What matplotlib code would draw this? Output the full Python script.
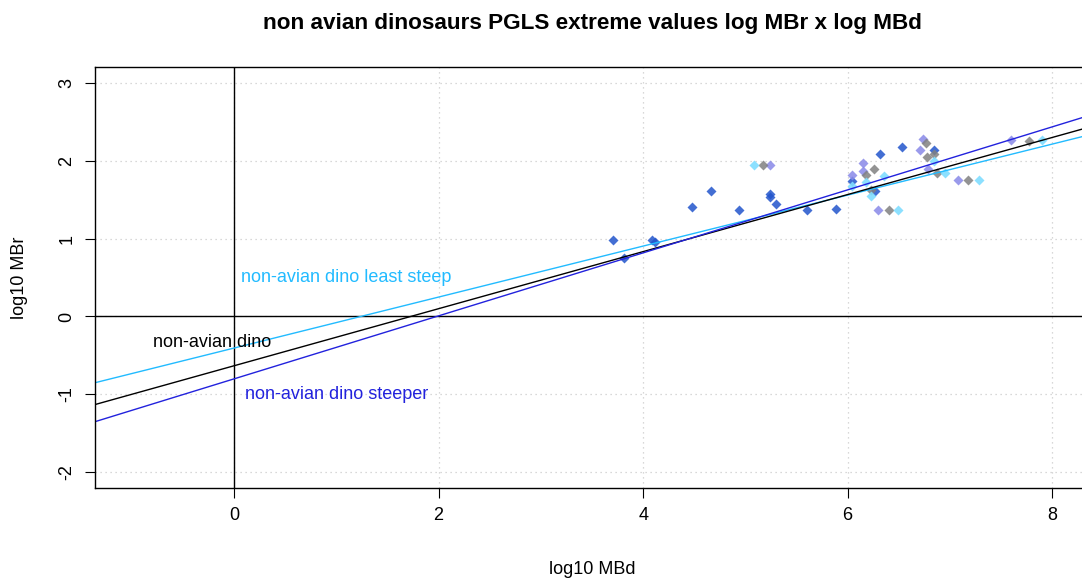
import numpy as np
import matplotlib.pyplot as plt

plt.rcParams['font.family'] = ['Liberation Sans', 'DejaVu Sans']
plt.rcParams['axes.unicode_minus'] = False

# extreme-value points, grouped by colour
blue_x = [3.71, 3.81, 4.09, 4.12, 4.48, 4.66, 4.94, 5.24, 5.24, 5.30, 5.60, 5.89, 6.04, 6.27, 6.32, 6.53, 6.84]
blue_y = [0.98, 0.75, 0.98, 0.95, 1.40, 1.61, 1.36, 1.57, 1.53, 1.44, 1.36, 1.38, 1.74, 1.61, 2.09, 2.17, 2.14]

purple_x = [5.24, 6.04, 6.15, 6.15, 6.30, 6.74, 6.71, 6.79, 7.08, 7.60]
purple_y = [1.94, 1.82, 1.97, 1.87, 1.36, 2.28, 2.13, 1.89, 1.75, 2.26]

grey_x = [5.17, 6.18, 6.26, 6.23, 6.40, 6.77, 6.84, 6.78, 6.87, 7.18, 7.77]
grey_y = [1.94, 1.81, 1.89, 1.62, 1.36, 2.22, 2.08, 2.04, 1.84, 1.75, 2.25]

cyan_x = [5.08, 6.04, 6.36, 6.18, 6.23, 6.49, 6.84, 6.95, 7.28, 7.90]
cyan_y = [1.94, 1.68, 1.80, 1.73, 1.55, 1.36, 2.00, 1.84, 1.75, 2.26]

# PGLS fits: least steep, mean, steeper
fit_names = ['non-avian dino least steep', 'non-avian dino', 'non-avian dino steeper']
fit_intercepts = [-0.405, -0.632, -0.80]
fit_slopes = [0.327, 0.366, 0.404]
fit_colors = ['#22BBFF', 'black', '#2222DD']
label_pos = [(1.1, 0.5), (-0.21, -0.33), (1.0, -1.0)]

fig = plt.figure(figsize=(10.82, 5.79), dpi=100)
ax = fig.add_axes([95 / 1082, 1 - 488 / 579, (1089 - 95) / 1082, (488 - 67) / 579])
ax.set_xlim(-1.36, 8.36)
ax.set_ylim(-2.2, 3.2)

ax.set_xticks([0, 2, 4, 6, 8])
ax.set_yticks([-2, -1, 0, 1, 2, 3])
ax.grid(True, color='#cccccc', linestyle=(0, (1, 3)), linewidth=0.9)
ax.set_axisbelow(True)

ax.axhline(0, color='black', linewidth=1)
ax.axvline(0, color='black', linewidth=1)

ax.plot(blue_x, blue_y, 'D', color='#2255CC', alpha=0.85, ms=4.6, mec='none')
ax.plot(purple_x, purple_y, 'D', color='#8888E8', alpha=0.85, ms=4.6, mec='none')
ax.plot(grey_x, grey_y, 'D', color='#808080', alpha=0.85, ms=4.6, mec='none')
ax.plot(cyan_x, cyan_y, 'D', color='#80DDFF', alpha=0.9, ms=4.6, mec='none')

for name, b, m, c, (tx, ty) in zip(fit_names, fit_intercepts, fit_slopes, fit_colors, label_pos):
    ax.axline((0, b), slope=m, color=c, linewidth=1)
    ax.text(tx, ty, name, color=c, fontsize=13, ha='center', va='center')

for s in ax.spines.values():
    s.set_linewidth(1)
ax.tick_params(length=7, labelsize=13, pad=7)
for lab in ax.get_yticklabels():
    lab.set_rotation(90)
    lab.set_va('center')

ax.set_xlabel('log10 MBd', fontsize=13, labelpad=26)
ax.set_ylabel('log10 MBr', fontsize=13, labelpad=22)
ax.set_title('non avian dinosaurs PGLS extreme values log MBr x log MBd',
             fontsize=16.2, fontweight='bold', pad=27)

fig.savefig('out.png', dpi=100)
